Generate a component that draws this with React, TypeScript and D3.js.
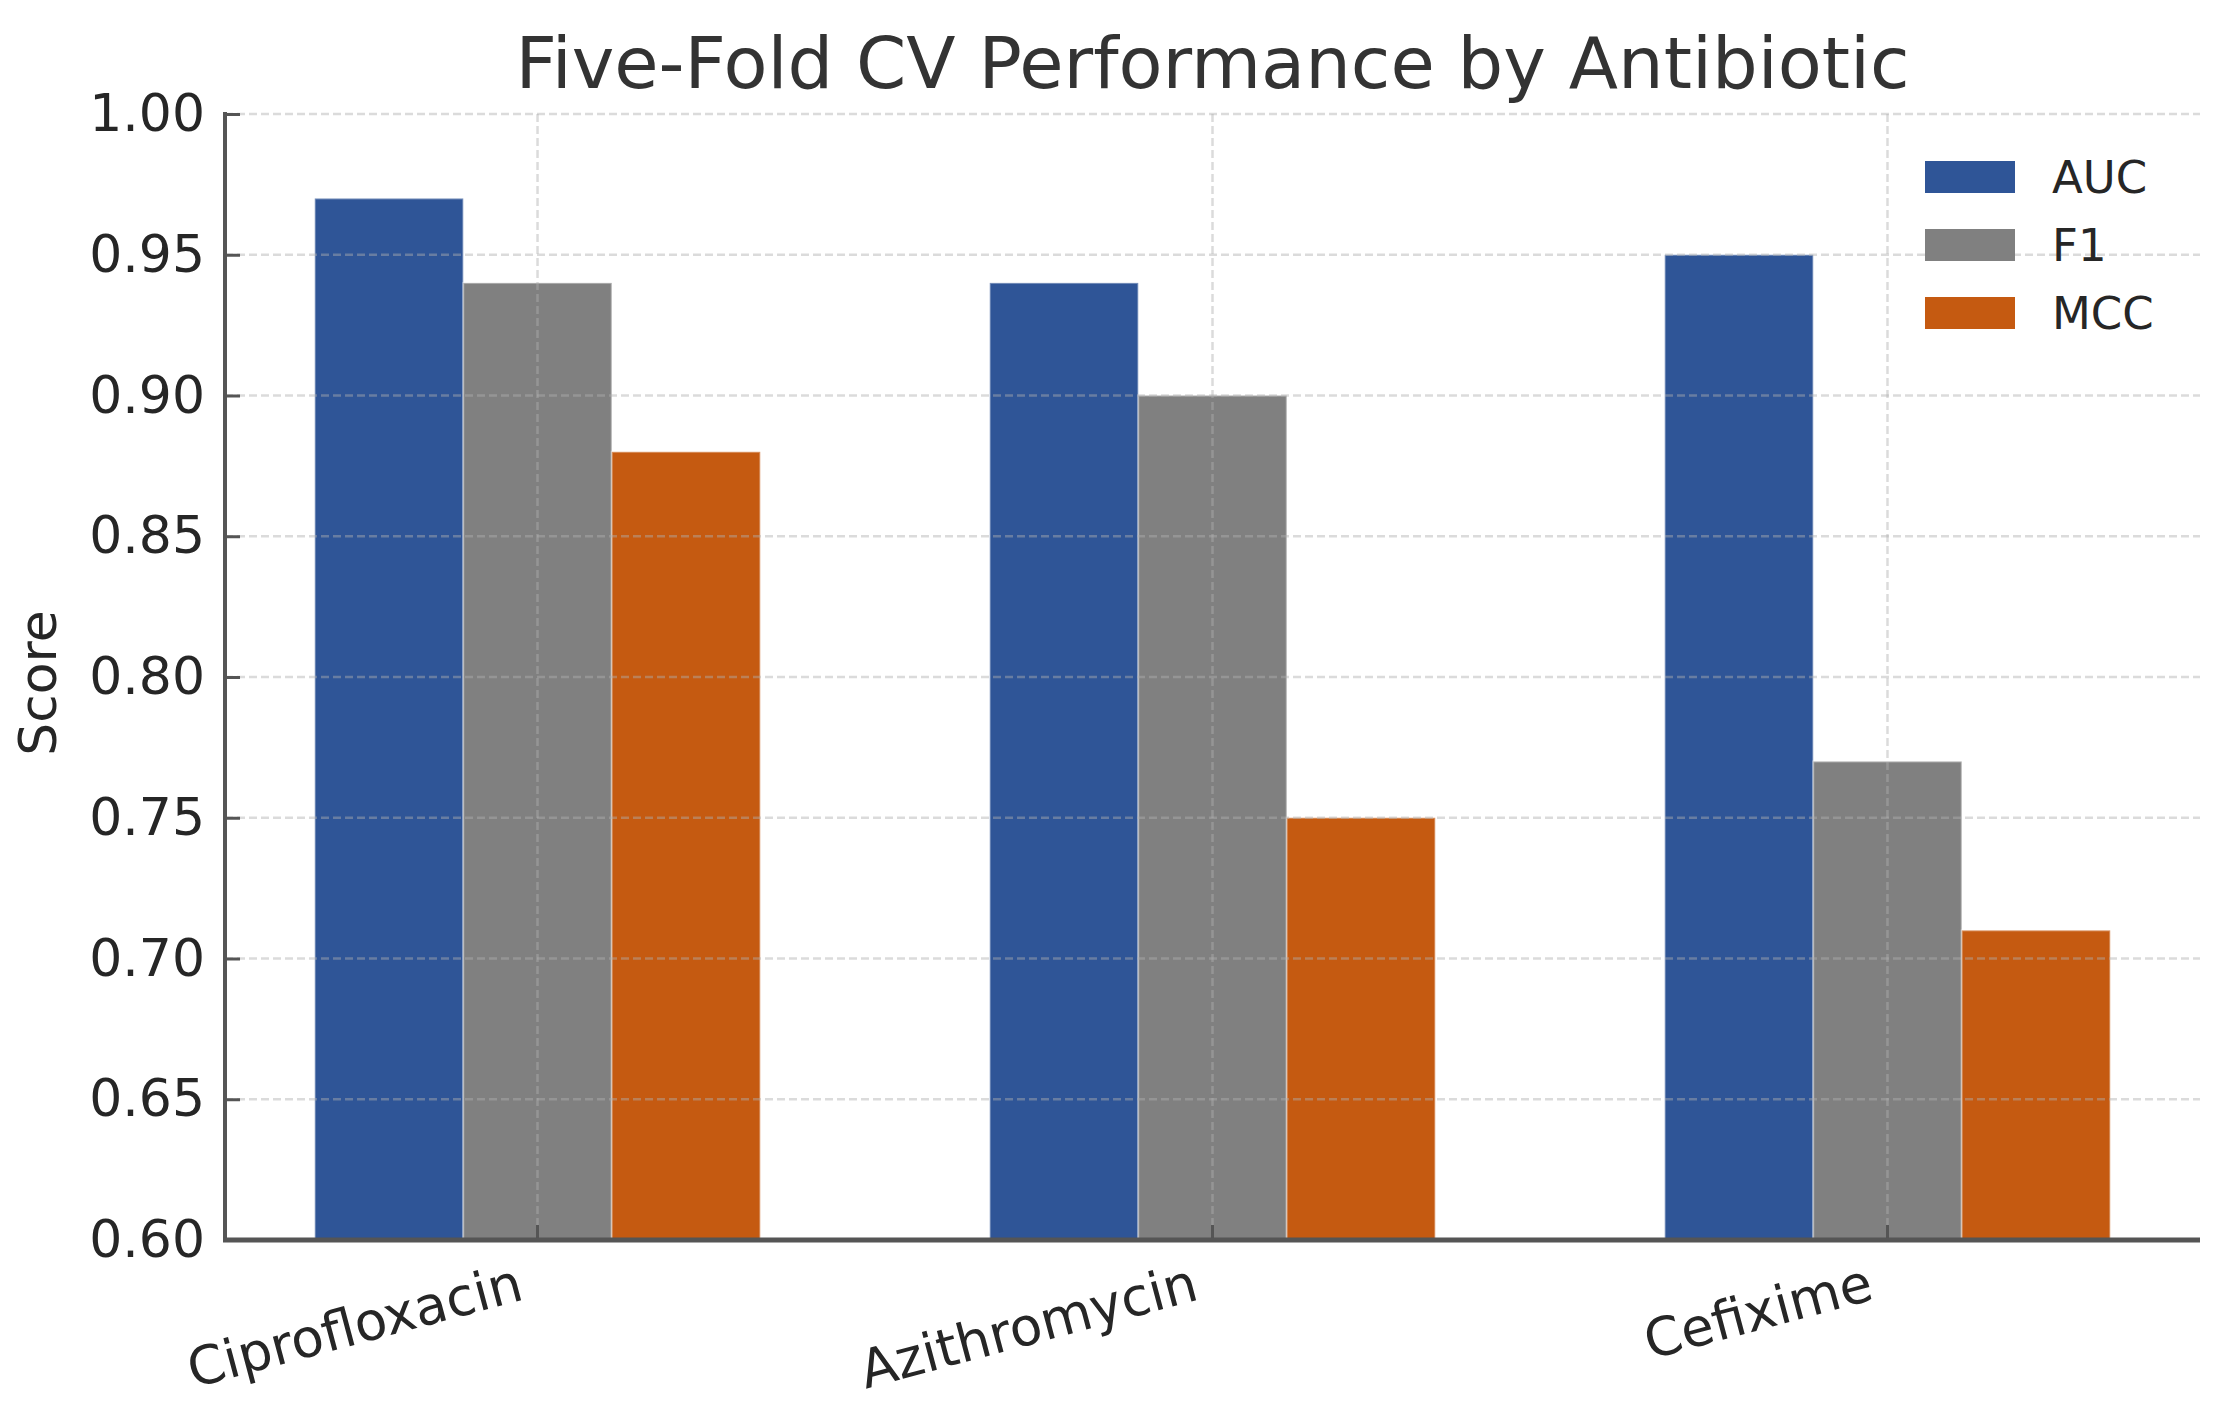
import { useEffect, useRef } from 'react';
import * as d3 from 'd3';

const antibiotics = ['Ciprofloxacin', 'Azithromycin', 'Cefixime'];
const metrics = ['AUC', 'F1', 'MCC'];
const aucValues = [0.97, 0.94, 0.95];
const f1Values = [0.94, 0.9, 0.77];
const mccValues = [0.88, 0.75, 0.71];
const metricColors = ['#2f5597', '#808080', '#c55a11'];
const yTicks = [0.6, 0.65, 0.7, 0.75, 0.8, 0.85, 0.9, 0.95, 1.0];

const W = 2215;
const H = 1404;
const FONT = '"DejaVu Sans", sans-serif';

export default function App() {
  const svgRef = useRef<SVGSVGElement>(null);

  useEffect(() => {
    if (!svgRef.current) return;
    const svg = d3.select(svgRef.current);
    svg.selectAll('*').remove();

    const left = 225;
    const right = 2200;
    const top = 114;
    const bottom = 1240;
    const barW = 0.22;

    const x = d3.scaleLinear().domain([-0.463, 2.463]).range([left, right]);
    const y = d3.scaleLinear().domain([0.6, 1.0]).range([bottom, top]);

    const series = [aucValues, f1Values, mccValues];

    // bars
    series.forEach((vals, si) => {
      const off = (si - 1) * barW;
      svg.append('g')
        .selectAll('rect')
        .data(vals)
        .join('rect')
        .attr('x', (_, i) => x(i + off - barW / 2))
        .attr('width', x(barW) - x(0))
        .attr('y', d => y(d))
        .attr('height', d => y(0.6) - y(d))
        .attr('fill', metricColors[si])
        .attr('stroke', '#ffffff')
        .attr('stroke-opacity', 0.35)
        .attr('stroke-width', 2);
    });

    // grid (drawn above bars)
    const grid = svg.append('g')
      .attr('stroke', '#b0b0b0')
      .attr('stroke-opacity', 0.45)
      .attr('stroke-width', 2.5)
      .attr('stroke-dasharray', '8,4');
    grid.selectAll('line.h')
      .data(yTicks)
      .join('line')
      .attr('class', 'h')
      .attr('x1', left)
      .attr('x2', right)
      .attr('y1', d => y(d))
      .attr('y2', d => y(d));
    grid.selectAll('line.v')
      .data(antibiotics)
      .join('line')
      .attr('class', 'v')
      .attr('x1', (_, i) => x(i))
      .attr('x2', (_, i) => x(i))
      .attr('y1', top)
      .attr('y2', bottom);

    // y axis
    const yAxis = d3.axisLeft(y)
      .tickValues(yTicks)
      .tickFormat(d3.format('.2f'))
      .tickSize(-15)
      .tickPadding(20);
    const gy = svg.append('g')
      .attr('transform', `translate(${left},0)`)
      .call(yAxis);
    gy.select('.domain').remove();
    gy.selectAll('.tick line').attr('stroke', '#555').attr('stroke-width', 3);
    gy.selectAll('.tick text')
      .attr('font-family', FONT)
      .attr('font-size', 52)
      .attr('fill', '#262626');

    // x ticks (inward)
    svg.append('g')
      .selectAll('line')
      .data(antibiotics)
      .join('line')
      .attr('x1', (_, i) => x(i))
      .attr('x2', (_, i) => x(i))
      .attr('y1', bottom)
      .attr('y2', bottom - 15)
      .attr('stroke', '#555')
      .attr('stroke-width', 3);

    // x labels rotated
    svg.append('g')
      .selectAll('text')
      .data(antibiotics)
      .join('text')
      .attr('transform', (_, i) => `translate(${x(i) - 12},1299) rotate(-15)`)
      .attr('text-anchor', 'end')
      .attr('font-family', FONT)
      .attr('font-size', 53)
      .attr('fill', '#262626')
      .text(d => d);

    // spines
    svg.append('line')
      .attr('x1', left).attr('x2', left)
      .attr('y1', top - 2).attr('y2', bottom + 2)
      .attr('stroke', '#555').attr('stroke-width', 4);
    svg.append('line')
      .attr('x1', left - 2).attr('x2', right)
      .attr('y1', bottom).attr('y2', bottom)
      .attr('stroke', '#555').attr('stroke-width', 5);

    // y label
    svg.append('text')
      .attr('transform', `translate(38,683) rotate(-90)`)
      .attr('text-anchor', 'middle')
      .attr('dy', '0.35em')
      .attr('font-family', FONT)
      .attr('font-size', 52)
      .attr('fill', '#262626')
      .text('Score');

    // title
    svg.append('text')
      .attr('x', (left + right) / 2)
      .attr('y', 88)
      .attr('text-anchor', 'middle')
      .attr('font-family', FONT)
      .attr('font-size', 72)
      .attr('fill', '#333')
      .text('Five-Fold CV Performance by Antibiotic');

    // legend
    const lg = svg.append('g').attr('transform', 'translate(1925,177)');
    metrics.forEach((m, i) => {
      const row = lg.append('g').attr('transform', `translate(0,${i * 68})`);
      row.append('rect')
        .attr('x', 0).attr('y', -16)
        .attr('width', 90).attr('height', 32)
        .attr('fill', metricColors[i]);
      row.append('text')
        .attr('x', 127)
        .attr('dy', '0.36em')
        .attr('font-family', FONT)
        .attr('font-size', 45)
        .attr('fill', '#262626')
        .text(m);
    });
  }, []);

  return (
    <svg
      ref={svgRef}
      width={W}
      height={H}
      style={{ position: 'absolute', left: 0, top: 0, background: '#fff' }}
    />
  );
}
